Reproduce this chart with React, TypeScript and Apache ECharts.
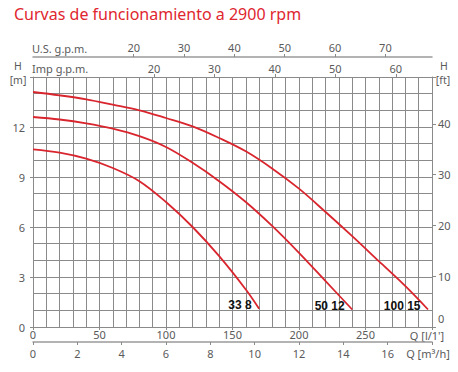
import React, { useEffect, useRef } from "react";
import * as echarts from "echarts";

// ---- data ----
const titleText = "Curvas de funcionamiento a 2900 rpm";
const modelNames = ["33 8", "50 12", "100 15"];

const q338 = [0, 20, 40, 60, 80, 100, 120, 140, 160, 170];
const h338 = [10.66, 10.46, 10.1, 9.54, 8.75, 7.5, 6.0, 4.25, 2.25, 1.1];

const q5012 = [0, 20, 40, 60, 80, 100, 120, 140, 160, 180, 200, 220, 240];
const h5012 = [12.6, 12.45, 12.22, 11.9, 11.45, 10.8, 9.85, 8.75, 7.5, 6.05, 4.45, 2.75, 1.05];

const q10015 = [0, 20, 40, 60, 80, 100, 120, 140, 160, 180, 200, 220, 240, 260, 280, 297];
const h10015 = [14.1, 13.9, 13.66, 13.34, 13.0, 12.54, 12.04, 11.34, 10.54, 9.5, 8.3, 6.9, 5.45, 3.95, 2.45, 1.05];

const qMaxLpm = 300;
const hMaxM = 15;
const lpmPerImpGpm = 4.54609;
const lpmPerUsGpm = 3.78541;
const lpmPerM3h = 1000 / 60;
const mPerFt = 0.3048;

const GRAY = "#8a8a8a";
const LABEL = "#5a5a5a";
const RED = "#d9252e";
const FONT = "Noto Sans";

export default function App() {
  const ref = useRef<HTMLDivElement>(null);
  useEffect(() => {
    if (!ref.current) return;
    const chart = echarts.init(ref.current, undefined, { renderer: "svg" });
    const mk = (q: number[], h: number[], name: string) => ({
      type: "line",
      name,
      xAxisIndex: 0,
      yAxisIndex: 0,
      smooth: 0.35,
      symbol: "none",
      lineStyle: { color: RED, width: 1.8 },
      data: q.map((v, i) => [v, h[i]]),
      markPoint: {
        symbol: "circle",
        symbolSize: 1,
        itemStyle: { color: "rgba(0,0,0,0)" },
        label: {
          show: true,
          position: "left",
          distance: 7,
          offset: [0, -4],
          formatter: name,
          fontFamily: "Liberation Sans",
          fontWeight: "bold",
          fontSize: 12,
          color: "#111",
        },
        data: [{ coord: [q[q.length - 1], h[h.length - 1]], value: name }],
      },
    });
    const axisText = { color: LABEL, fontSize: 11, fontFamily: FONT };
    const txt = (text: string, x: number, y: number, align = "left", size = 11) => ({
      type: "text",
      x,
      y,
      style: {
        text,
        fill: LABEL,
        fontSize: size,
        lineHeight: size,
        fontFamily: FONT,
        textAlign: align,
        textVerticalAlign: "middle",
      },
    });
    chart.setOption({
      animation: false,
      title: {
        text: titleText,
        left: 9,
        top: 1,
        textStyle: { color: "#e0262f", fontSize: 16, fontWeight: "normal", fontFamily: FONT },
      },
      grid: { left: 33, top: 77, width: 399, height: 250, containLabel: false },
      xAxis: [
        {
          type: "value",
          position: "bottom",
          min: 0,
          max: qMaxLpm,
          interval: 10,
          axisLine: { show: true, onZero: false, lineStyle: { color: GRAY, width: 1 } },
          axisTick: { show: false },
          axisLabel: { show: false },
          splitLine: { show: true, lineStyle: { color: GRAY, width: 1 } },
        },
        {
          type: "value",
          position: "bottom",
          min: 0,
          max: qMaxLpm,
          interval: 50,
          axisLine: { show: false, onZero: false },
          axisTick: { show: true, length: 3, lineStyle: { color: GRAY } },
          axisLabel: { ...axisText, margin: 2, formatter: (v: number) => (v >= qMaxLpm ? "" : String(v)) },
          splitLine: { show: false },
        },
        {
          type: "value",
          position: "bottom",
          offset: 15,
          min: 0,
          max: qMaxLpm / lpmPerM3h,
          interval: 2,
          axisLine: { show: true, onZero: false, lineStyle: { color: "#9a9a9a", width: 1.5 } },
          axisTick: { show: true, length: 3, lineStyle: { color: GRAY } },
          axisLabel: { ...axisText, margin: 6, formatter: (v: number) => (v >= 17.9 ? "" : String(v)) },
          splitLine: { show: false },
        },
        {
          type: "value",
          position: "top",
          min: 0,
          max: qMaxLpm / lpmPerImpGpm,
          interval: 10,
          axisLine: { show: false, onZero: false },
          axisTick: { show: true, length: 3, customValues: [20, 30, 40, 50, 60], lineStyle: { color: GRAY } },
          axisLabel: {
            ...axisText,
            margin: 3,
            customValues: [20, 30, 40, 50, 60],
            formatter: (v: number) => (v < 15 ? "" : String(v)),
          },
          splitLine: { show: false },
        },
        {
          type: "value",
          position: "top",
          offset: 20,
          min: 0,
          max: qMaxLpm / lpmPerUsGpm,
          interval: 10,
          axisLine: { show: true, onZero: false, lineStyle: { color: "#9a9a9a", width: 1.5 } },
          axisTick: { show: true, length: 3, customValues: [20, 30, 40, 50, 60, 70], lineStyle: { color: GRAY } },
          axisLabel: {
            ...axisText,
            margin: 4,
            customValues: [20, 30, 40, 50, 60, 70],
            formatter: (v: number) => (v < 15 ? "" : String(v)),
          },
          splitLine: { show: false },
        },
      ],
      yAxis: [
        {
          type: "value",
          position: "left",
          min: 0,
          max: hMaxM,
          interval: 1,
          axisLine: { show: true, onZero: false, lineStyle: { color: GRAY, width: 1 } },
          axisTick: { show: false },
          axisLabel: { show: false },
          splitLine: { show: true, lineStyle: { color: GRAY, width: 1 } },
        },
        {
          type: "value",
          position: "left",
          min: 0,
          max: hMaxM,
          interval: 3,
          axisLine: { show: false, onZero: false },
          axisTick: { show: true, length: 3, lineStyle: { color: GRAY } },
          axisLabel: { ...axisText, margin: 8, formatter: (v: number) => (v >= hMaxM ? "" : String(v)) },
          splitLine: { show: false },
        },
        {
          type: "value",
          position: "right",
          min: 0,
          max: hMaxM / mPerFt,
          interval: 10,
          axisLine: { show: true, onZero: false, lineStyle: { color: GRAY, width: 1 } },
          axisTick: { show: true, length: 4, lineStyle: { color: GRAY } },
          axisLabel: {
            ...axisText,
            margin: 6,
            formatter: (v: number) => (v > 45 || v === 0 ? "" : String(v)),
          },
          splitLine: { show: false },
        },
      ],
      graphic: [
        txt("U.S. g.p.m.", 32, 48),
        txt("Imp g.p.m.", 32, 68),
        txt("H", 18, 66, "center", 10.5),
        txt("[m]", 18, 80, "center", 10.5),
        txt("H", 444, 66, "center", 10.5),
        txt("[ft]", 443, 80, "center", 10.5),
        txt("0", 438, 318),
        txt("Q [l/1']", 427, 335, "center"),
        txt("Q [m³/h]", 428, 353, "center"),
      ],
      series: [
        mk(q338, h338, modelNames[0]),
        mk(q5012, h5012, modelNames[1]),
        mk(q10015, h10015, modelNames[2]),
      ],
    });
    return () => chart.dispose();
  }, []);
  return (
    <div
      ref={ref}
      style={{ position: "fixed", left: 0, top: 0, width: 458, height: 372, background: "#fff" }}
    />
  );
}
